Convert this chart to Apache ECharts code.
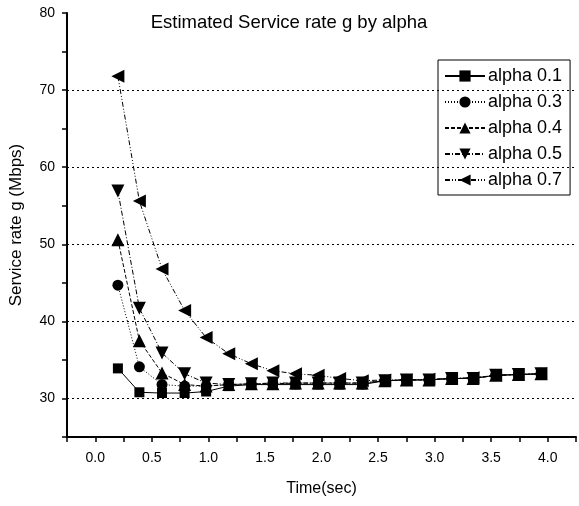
<!DOCTYPE html>
<html>
<head>
<meta charset="utf-8">
<script src="https://cdn.jsdelivr.net/npm/echarts@6/dist/echarts.min.js"></script>
<style>html,body{margin:0;padding:0;background:#fff}#c{width:579px;height:506px}</style>
</head>
<body>
<div id="c"></div>
<script>
const titleText = 'Estimated Service rate g by alpha';
const xName = 'Time(sec)';
const yName = 'Service rate g (Mbps)';
const time = [0.2,0.39,0.59,0.79,0.98,1.18,1.38,1.57,1.77,1.97,2.16,2.36,2.56,2.75,2.95,3.15,3.34,3.54,3.74,3.94];
const alpha01 = [33.9,30.8,30.7,30.7,30.9,31.6,31.8,31.8,31.8,31.8,31.8,31.8,32.3,32.4,32.4,32.6,32.6,33.0,33.1,33.2];
const alpha03 = [44.7,34.1,31.8,31.6,31.6,31.8,31.8,31.9,31.9,31.9,31.9,31.9,32.3,32.4,32.4,32.6,32.6,33.0,33.1,33.2];
const alpha04 = [50.6,37.5,33.3,31.8,31.6,31.8,31.9,31.9,32.0,32.0,32.0,32.0,32.3,32.4,32.4,32.6,32.6,33.0,33.1,33.2];
const alpha05 = [56.9,41.7,35.9,33.2,32.0,31.8,31.9,32.0,32.0,32.0,32.0,32.0,32.3,32.4,32.4,32.6,32.6,33.0,33.1,33.2];
const alpha07 = [71.8,55.6,46.8,41.4,37.9,35.8,34.5,33.6,33.2,33.0,32.6,32.3,32.4,32.4,32.5,32.6,32.7,33.0,33.1,33.2];
const seriesNames = ['alpha 0.1','alpha 0.3','alpha 0.4','alpha 0.5','alpha 0.7'];
const gridValues = [30,40,50,60,70];

const pair = arr => arr.map((v,i)=>[time[i], v]);
const FONT = '"Liberation Sans", Arial, sans-serif';

const styles = [
  {symbol:'rect', size:10, rot:0, dash:'solid'},
  {symbol:'circle', size:11, rot:0, dash:[1,2]},
  {symbol:'triangle', size:13, rot:0, dash:[4,2]},
  {symbol:'triangle', size:13, rot:180, dash:[5,2,1,2]},
  {symbol:'triangle', size:13, rot:90, dash:[5,2,1,2,1,2]}
];
const datas = [alpha01, alpha03, alpha04, alpha05, alpha07];

const series = datas.map((d,i)=>({
  name: seriesNames[i],
  type: 'line',
  data: pair(d),
  symbol: styles[i].symbol,
  symbolSize: styles[i].size,
  symbolRotate: styles[i].rot,
  showAllSymbol: true,
  lineStyle: {color:'#000', width:1, type: styles[i].dash},
  itemStyle: {color:'#000'},
  emphasis: {disabled:true},
  animation: false,
  z: 3 + i
}));
series[0].markLine = {
  silent: true,
  symbol: 'none',
  label: {show:false},
  animation: false,
  lineStyle: {color:'#000', width:1, type:[2,3]},
  data: gridValues.map(v=>({yAxis:v}))
};

const chart = echarts.init(document.getElementById('c'), null, {renderer:'canvas'});
chart.setOption({
  backgroundColor: '#fff',
  animation: false,
  title: {
    text: titleText,
    left: 284, top: 8, textAlign: 'center',
    textStyle: {fontFamily: FONT, fontSize: 18.5, fontWeight: 'normal', color: '#000'}
  },
  legend: {
    orient: 'vertical',
    left: 438, top: 60,
    width: 137,
    padding: [7, 8, 6, 6],
    itemGap: 8,
    itemWidth: 40, itemHeight: 14,
    borderColor: '#000', borderWidth: 1,
    backgroundColor: '#fff',
    textStyle: {fontFamily: FONT, fontSize: 18, color: '#000', padding: [0,0,0,-2]},
    data: seriesNames
  },
  grid: {left: 63, right: 2, top: 13, bottom: 69, containLabel: false},
  xAxis: {
    type: 'value',
    min: -0.25, max: 4.25, interval: 0.25,
    name: xName, nameLocation: 'middle', nameGap: 44,
    nameTextStyle: {fontFamily: FONT, fontSize: 16, color: '#000'},
    axisLine: {show: true, onZero: false, lineStyle: {color:'#000', width: 2}},
    axisTick: {show: true, length: 5, lineStyle: {color:'#000', width: 1.5}},
    axisLabel: {
      fontFamily: FONT, fontSize: 14, color: '#000', margin: 14,
      formatter: v => (Math.abs(v*2 - Math.round(v*2)) < 1e-6 && v >= 0 && v <= 4) ? v.toFixed(1) : ''
    },
    splitLine: {show: false}
  },
  yAxis: {
    type: 'value',
    min: 25, max: 80, interval: 5,
    name: yName, nameLocation: 'middle', nameGap: 42, nameRotate: 90,
    nameTextStyle: {fontFamily: FONT, fontSize: 17, color: '#000'},
    axisLine: {show: true, onZero: false, lineStyle: {color:'#000', width: 2}},
    axisTick: {show: true, length: 5, lineStyle: {color:'#000', width: 1.5}},
    axisLabel: {
      fontFamily: FONT, fontSize: 14, color: '#000', margin: 12,
      formatter: v => (v % 10 === 0) ? String(v) : ''
    },
    splitLine: {show: false}
  },
  series: series
});
</script>
</body>
</html>
